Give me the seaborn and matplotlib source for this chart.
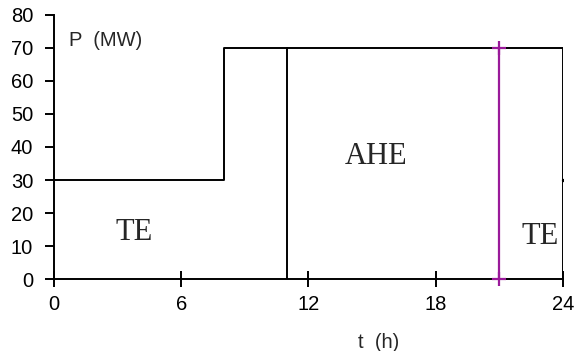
import matplotlib
matplotlib.use('Agg')
import matplotlib.pyplot as plt
import seaborn as sns
import pandas as pd

# --- DATA ---
t_profile = [0, 8, 8, 24, 24]        # h
p_profile = [30, 30, 70, 70, 0]      # MW
t_split = [11, 11]                   # end of first block
p_split = [0, 70]
t_marker = [21, 21]                  # purple marker line
p_marker = [0, 70]
t_dot = [24]
p_dot = [30]
x_ticks = [0, 6, 12, 18, 24]
y_ticks = [0, 10, 20, 30, 40, 50, 60, 70, 80]
region_labels = ["TE", "AHE", "TE"]
region_t = [3.8, 15.2, 22.9]
region_p = [14, 37, 13]

sns.set_style("white")
plt.rcParams['font.family'] = ['Liberation Sans', 'DejaVu Sans']

fig = plt.figure(figsize=(5.77, 3.51), dpi=100)
ax = fig.add_axes([0.0936, 0.2051, 0.8821, 0.7522])

df = pd.DataFrame({"t": t_profile, "p": p_profile})
sns.lineplot(data=df, x="t", y="p", sort=False, estimator=None,
             color="black", lw=1.4, ax=ax)
sns.lineplot(x=t_split, y=p_split, sort=False, estimator=None,
             color="black", lw=1.4, ax=ax)
sns.lineplot(x=t_marker, y=p_marker, sort=False, estimator=None,
             color="#9a1a9a", lw=1.6, marker="+", markersize=10,
             markeredgewidth=1.6, markeredgecolor="#9a1a9a",
             clip_on=False, zorder=5, ax=ax)
sns.scatterplot(x=t_dot, y=p_dot, color="black", s=6, ax=ax)

for lab, tx, py in zip(region_labels, region_t, region_p):
    ax.text(tx, py, lab, ha="center", va="center", fontsize=22,
            family=["Liberation Serif", "DejaVu Serif"])

ax.text(0.7, 72.4, "P  (MW)", ha="left", va="center", fontsize=14.5)

ax.set_xlim(0, 24)
ax.set_ylim(0, 80)
ax.set_xticks(x_ticks)
ax.set_yticks(y_ticks)
ax.set_ylabel("")
ax.set_xlabel("t  (h)", fontsize=14.5)
ax.xaxis.set_label_coords(0.6385, -0.205)

for s in ["top", "right"]:
    ax.spines[s].set_visible(False)
for s in ["left", "bottom"]:
    ax.spines[s].set_color("black")
    ax.spines[s].set_linewidth(1.4)

ax.tick_params(axis="y", left=True, direction="out", length=6.5, width=1.4,
               pad=8.5, labelsize=14.5, colors="black")
ax.tick_params(axis="x", bottom=True, direction="inout", length=12, width=1.4,
               pad=5.5, labelsize=14.5, colors="black")

fig.savefig("out.png", dpi=100)
